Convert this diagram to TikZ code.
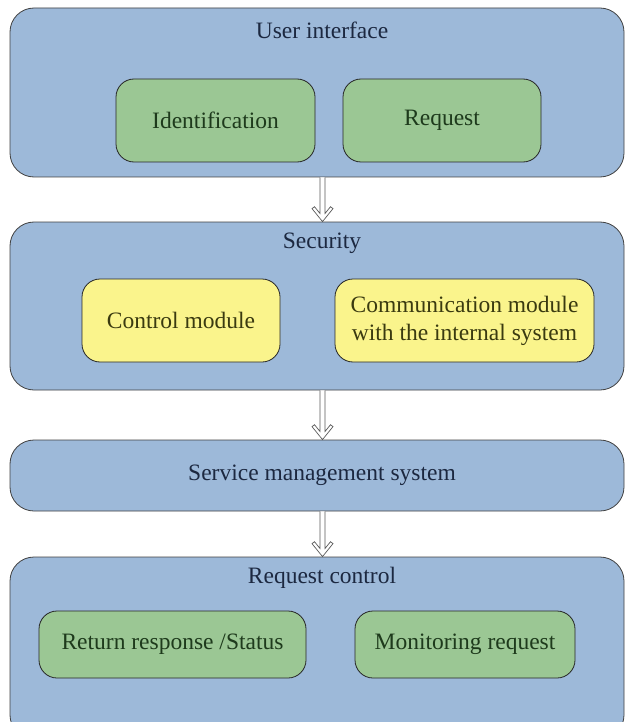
\documentclass[tikz,border=0pt]{standalone}
\usepackage{fontspec}
\setmainfont{Liberation Serif}
\usetikzlibrary{arrows.meta, positioning, calc}
\definecolor{layerBlue}{HTML}{9DB9D9}
\definecolor{partGreen}{HTML}{9BC794}
\definecolor{partYellow}{HTML}{FAF48C}
\definecolor{titleDark}{HTML}{1C2840}
\definecolor{greenDark}{HTML}{1E3A1C}
\definecolor{yellowDark}{HTML}{3A3A10}

\tikzset{
  layer/.style={draw=black!75, fill=layerBlue, rounded corners=24pt,
    line width=0.8pt, minimum width=614pt, inner sep=0pt},
  part/.style={draw=black!85, rounded corners=18pt, line width=0.8pt,
    minimum height=83pt, inner sep=0pt, align=center,
    font=\fontsize{23.5}{28}\selectfont},
  greenpart/.style={part, fill=partGreen, text=greenDark},
  yellowpart/.style={part, fill=partYellow, text=yellowDark},
  title/.style={font=\fontsize{23.5}{28}\selectfont, text=titleDark},
  flowline/.style={draw=black!65, fill=white, line width=0.7pt,
    line join=miter}
}
% hollow arrow from #1 down to #2
\newcommand{\layerflow}[2]{%
  \draw[flowline] ($(#1)+(-2.5,0)$) -- ($(#2)+(-2.5,-8.1)$)
    -- ($(#2)+(-8,-14.9)$) -- ($(#2)+(-10.5,-13)$) -- (#2)
    -- ($(#2)+(10.5,-13)$) -- ($(#2)+(8,-14.9)$)
    -- ($(#2)+(2.5,-8.1)$) -- ($(#1)+(2.5,0)$);}

\begin{document}
\begin{tikzpicture}[x=1pt, y=-1pt]
  \useasboundingbox (0,0) rectangle (625,722);
  \clip (0,0) rectangle (625,722);

  % layers
  \node[layer, minimum height=169pt] (ui) at (317,92.5) {};
  \node[layer, minimum height=168pt] (sec) at (317,306) {};
  \node[layer, minimum height=71pt] (sms) at (317,475.5) {};
  \node[layer, minimum height=182pt] (rc) at (317,648) {};

  % layer titles
  \node[title] (uiTitle) at (322,30) {User interface};
  \node[title] (secTitle) at (322,243) {Security};
  \node[title] (smsTitle) at (322,475) {Service management system};
  \node[title] (rcTitle) at (322,578) {Request control};

  % inner parts
  \node[greenpart, minimum width=199pt] (ident) at (215.5,120.5) {Identification};
  \node[greenpart, minimum width=198pt] (req) at (442,120.5) {Request};
  \node[yellowpart, minimum width=198pt] (ctrl) at (181,320.5) {Control module};
  \node[yellowpart, minimum width=259pt] (comm) at (464.5,320.5)
    {Communication module\\with the internal system};
  \node[greenpart, minimum width=267pt, minimum height=67pt] (ret) at (172.5,644.5)
    {Return response /Status};
  \node[greenpart, minimum width=220pt, minimum height=67pt] (mon) at (465,644.5)
    {Monitoring request};

  % flow between layers
  \coordinate (uiOut) at (ui.south -| 322.5,0);
  \coordinate (secIn) at (sec.north -| 322.5,0);
  \coordinate (secOut) at (sec.south -| 322.5,0);
  \coordinate (smsIn) at (sms.north -| 322.5,0);
  \coordinate (smsOut) at (sms.south -| 322.5,0);
  \coordinate (rcIn) at (rc.north -| 322.5,0);
  \layerflow{uiOut}{secIn}
  \layerflow{secOut}{smsIn}
  \layerflow{smsOut}{rcIn}
\end{tikzpicture}
\end{document}
